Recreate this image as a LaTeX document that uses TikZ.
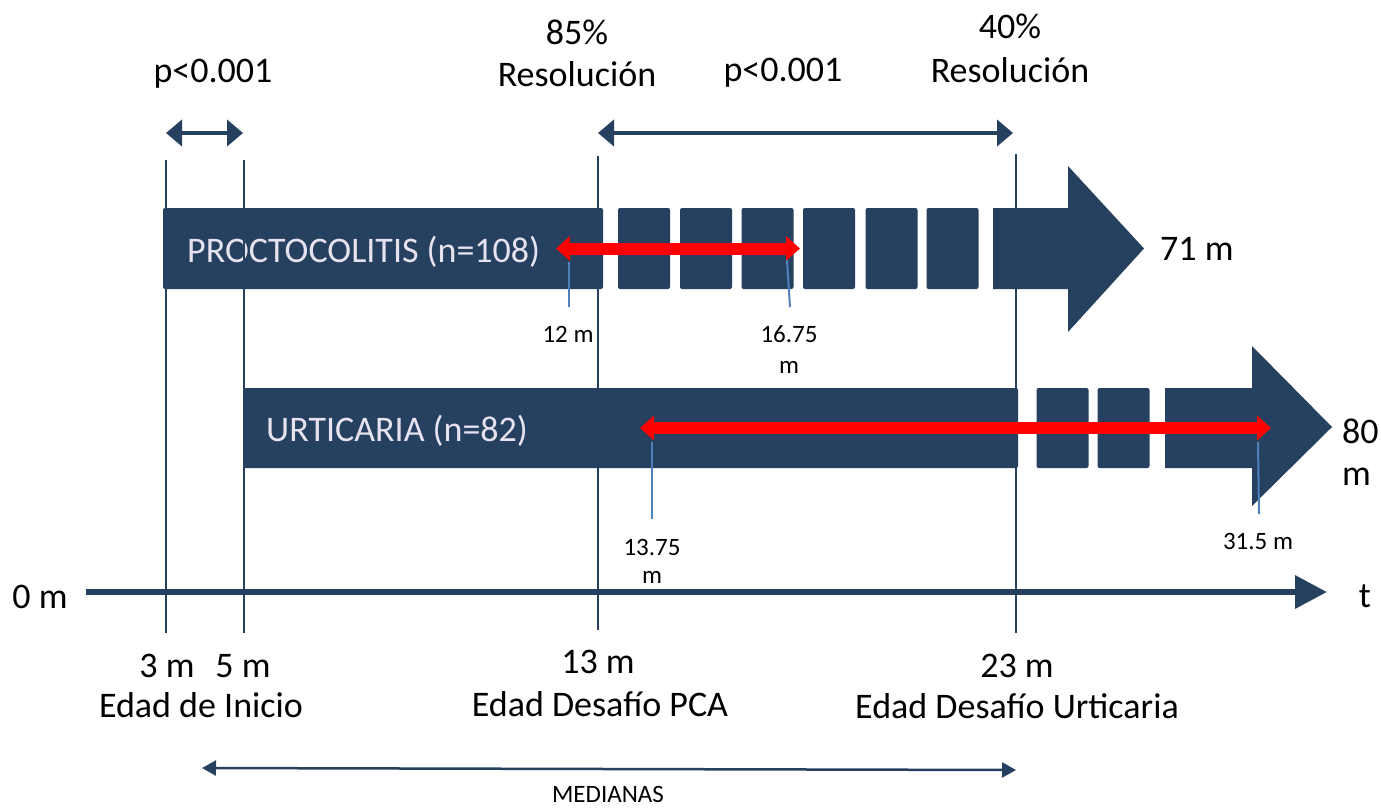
\documentclass[tikz,border=0pt]{standalone}
\usepackage{fontspec}
\setmainfont{Carlito}
\usetikzlibrary{arrows.meta}
\definecolor{navy}{RGB}{38,64,96}
\definecolor{tickblue}{RGB}{79,129,189}
\definecolor{bartext}{RGB}{230,226,240}
\begin{document}
\begin{tikzpicture}[x=1pt,y=-1pt,
  big/.style={font=\fontsize{36}{42}\selectfont, inner sep=0pt, anchor=base},
  small/.style={font=\fontsize{25}{30}\selectfont, inner sep=0pt, anchor=base},
  bar/.style={fill=navy, rounded corners=2pt, inner sep=0pt},
  blk/.style={bar, minimum width=52pt, minimum height=81pt},
  bartxt/.style={font=\fontsize{36}{42}\selectfont, text=bartext, inner sep=0pt, anchor=base west},
  vline/.style={navy, line width=2.2pt},
  tick/.style={tickblue, line width=2pt},
  redarr/.style={red, line width=12pt, {Triangle[length=14pt,width=24pt]}-{Triangle[length=14pt,width=24pt]}},
  pval/.style={navy, line width=4.5pt, {Triangle[length=16pt,width=26pt]}-{Triangle[length=16pt,width=26pt]}},
  axisarr/.style={navy, line width=6.5pt, -{Triangle[length=32pt,width=32pt]}},
  medarr/.style={navy, line width=2.5pt, {Triangle[length=14pt,width=15pt]}-{Triangle[length=14pt,width=15pt]}}
]
\useasboundingbox (0,0) rectangle (1381,807);
\fill[white] (0,0) rectangle (1381,807);

% ---- bars ----
\node[bar, minimum width=440pt, minimum height=81pt] (pbar) at (383,248.5) {};
\node[blk] (ps1) at (644,248.5) {};
\node[blk] (ps2) at (706,248.5) {};
\node[blk] (ps3) at (767.5,248.5) {};
\node[blk] (ps4) at (829,248.5) {};
\node[blk] (ps5) at (891.5,248.5) {};
\node[blk] (ps6) at (952.5,248.5) {};
\fill[navy] (993,208) -- (1068,208) -- (1068,166) -- (1144,248.5) -- (1068,332) -- (1068,289) -- (993,289) -- cycle;
\node[bartxt] (ptxt) at (187,262) {PROCTOCOLITIS (n=108)};

\node[bar, minimum width=775pt, minimum height=80pt] (ubar) at (630.5,428) {};
\node[blk, minimum height=80pt] (us1) at (1062.5,428) {};
\node[blk, minimum height=80pt] (us2) at (1123.5,428) {};
\fill[navy] (1165,388) -- (1252,388) -- (1252,346) -- (1332,427) -- (1252,506) -- (1252,468) -- (1165,468) -- cycle;
\node[bartxt] (utxt) at (266,441.5) {URTICARIA (n=82)};

% ---- vertical lines ----
\coordinate (v3t) at (166,160);  \coordinate (v3b) at (166,633);
\coordinate (v5t) at (244,160);  \coordinate (v5b) at (244,633);
\coordinate (v13t) at (598,156); \coordinate (v13b) at (598,630);
\coordinate (v23t) at (1016,154); \coordinate (v23b) at (1016,633);
\draw[vline] (v3t) -- (v3b);
\draw[vline] (v5t) -- (v5b);
\draw[vline] (v13t) -- (v13b);
\draw[vline] (v23t) -- (v23b);

% ---- p-value arrows ----
\coordinate (pa1) at (166,133); \coordinate (pa2) at (243,133);
\draw[pval] (pa1) -- (pa2);
\coordinate (pb1) at (598,133); \coordinate (pb2) at (1013,133);
\draw[pval] (pb1) -- (pb2);

% ---- red arrows and ticks ----
\coordinate (r1a) at (556,248.5); \coordinate (r1b) at (800,248.5);
\draw[redarr] (r1a) -- (r1b);
\coordinate (r2a) at (640,428); \coordinate (r2b) at (1271,428);
\draw[redarr] (r2a) -- (r2b);

\coordinate (t12a) at (569,262); \coordinate (t12b) at (569,307);
\draw[tick] (t12a) -- (t12b);
\coordinate (t16a) at (787,260); \coordinate (t16b) at (790,307);
\draw[tick] (t16a) -- (t16b);
\coordinate (t13a) at (652,442); \coordinate (t13b) at (652,519);
\draw[tick] (t13a) -- (t13b);
\coordinate (t31a) at (1258,442); \coordinate (t31b) at (1259,514);
\draw[tick] (t31a) -- (t31b);

\node[small] (l12) at (568,342) {12 m};
\node[small] (l16) at (789,342) {16.75};
\node[small] (l16m) at (789,373) {m};
\node[small] (l13) at (652,555) {13.75};
\node[small] (l13m) at (652,583) {m};
\node[small] (l31) at (1258,549) {31.5 m};

% ---- axis ----
\coordinate (ax0) at (86,592); \coordinate (ax1) at (1327,592);
\draw[axisarr] (ax0) -- (ax1);
\node[big] (zero) at (40,608) {0 m};
\node[big] (tlab) at (1365,607) {t};

% ---- end labels ----
\node[big, anchor=base west] (l71) at (1160,260) {71 m};
\node[big, anchor=base west] (l80) at (1342,443) {80};
\node[big, anchor=base west] (l80m) at (1342,485) {m};

% ---- top labels ----
\node[big] (p1) at (213,82) {p<0.001};
\node[big] (r85) at (577,44) {85\%};
\node[big] (res1) at (577,86) {Resolución};
\node[big] (p2) at (783,81) {p<0.001};
\node[big] (r40) at (1010,38) {40\%};
\node[big] (res2) at (1010,82) {Resolución};

% ---- bottom labels ----
\node[big] (m3) at (167,677) {3 m};
\node[big] (m5) at (243,677) {5 m};
\node[big] (ini) at (201,717) {Edad de Inicio};
\node[big] (m13) at (598,673) {13 m};
\node[big] (pca) at (600,716) {Edad Desafío PCA};
\node[big] (m23) at (1017,677) {23 m};
\node[big] (urt) at (1017,718) {Edad Desafío Urticaria};

\coordinate (md1) at (202,768); \coordinate (md2) at (1016,770);
\draw[medarr] (md1) -- (md2);
\node[small] (med) at (608,802) {MEDIANAS};
\end{tikzpicture}
\end{document}
